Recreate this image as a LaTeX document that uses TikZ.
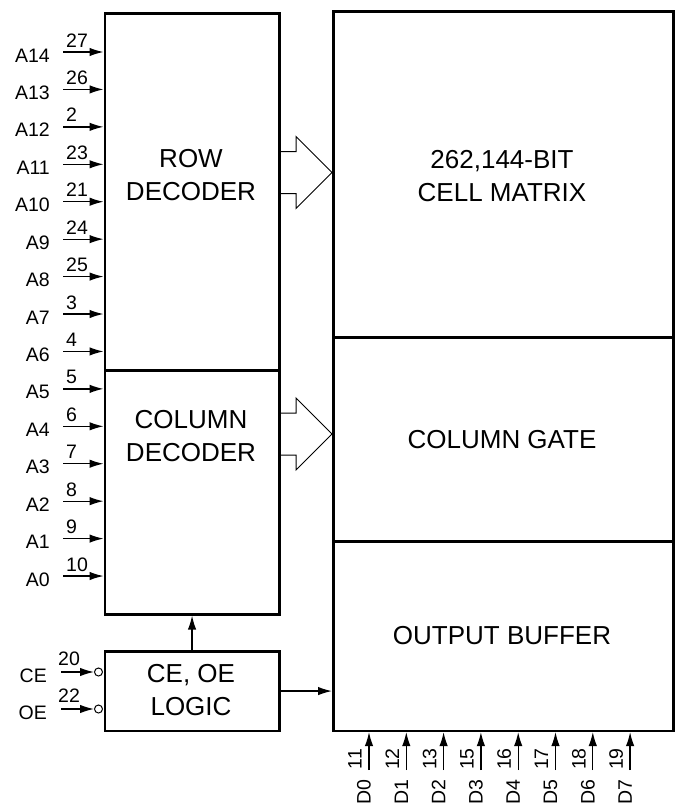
\documentclass[tikz,border=0pt]{standalone}
\usepackage{fontspec}
\setmainfont{Liberation Sans}
\usetikzlibrary{arrows.meta}

\begin{document}
\begin{tikzpicture}[x=1pt,y=-1pt,>={Latex[length=14pt,width=8.5pt]},
  blk/.style={draw,line width=2.6pt,inner sep=0pt,anchor=north west},
  big/.style={font=\fontsize{26}{33}\selectfont,align=center},
  pin/.style={font=\fontsize{19.5}{22}\selectfont,inner sep=0pt},
  wire/.style={line width=1.3pt},
  bub/.style={circle,draw,line width=1pt,minimum size=8pt,inner sep=0pt}]
\useasboundingbox (0,0) rectangle (675,806);
% left side
\node[blk,minimum width=174.5pt,minimum height=357pt] (row) at (103.5,12) {};
\node[blk,minimum width=174.5pt,minimum height=244pt] (col) at (103.5,369) {};
\node[blk,minimum width=174.5pt,minimum height=79.5pt] (logic) at (103.5,650) {};
% right side
\node[blk,minimum width=340pt,minimum height=326pt] (matrix) at (332,10) {};
\node[blk,minimum width=340pt,minimum height=204pt] (gate) at (332,336) {};
\node[blk,minimum width=340pt,minimum height=189.5pt] (buf) at (332,540) {};
\node[big] (rowtxt) at (191,175) {ROW\\DECODER};
\node[big] (coltxt) at (191,436) {COLUMN\\DECODER};
\node[big] (logtxt) at (191,690) {CE, OE\\LOGIC};
\node[big] (mattxt) at (502,176) {262,144-BIT\\CELL MATRIX};
\node[big] (gatetxt) at (502,440) {COLUMN GATE};
\node[big] (buftxt) at (502,636) {OUTPUT BUFFER};
% hollow arrows
\foreach \y in {172.5,434}
  \draw[line width=1pt] (278,\y-21) -- (296,\y-21) -- (296,\y-36) -- (332,\y)
    -- (296,\y+36) -- (296,\y+21) -- (278,\y+21);
% address pins
\foreach \nm/\num [count=\k from 0] in {A14/27,A13/26,A12/2,A11/23,A10/21,A9/24,A8/25,
    A7/3,A6/4,A5/5,A4/6,A3/7,A2/8,A1/9,A0/10} {
  \coordinate (a\k) at (63,52+37.43*\k);
  \draw[wire,->] (a\k) -- (a\k -| row.west);
  \node[pin,anchor=base east] (an\k) at (50,62+37.43*\k) {\nm};
  \node[pin,anchor=base west] (pn\k) at (66,47+37.43*\k) {\num};
}
% control pins
\node[bub] (cebub) at (98.5,672) {};
\node[bub] (oebub) at (98.5,709) {};
\coordinate (cein) at (61,672);
\coordinate (oein) at (61,709);
\draw[wire,->] (cein) -- (cebub.west);
\draw[wire,->] (oein) -- (oebub.west);
\node[pin,anchor=base east] (cetxt) at (47,682) {CE};
\node[pin,anchor=base east] (oetxt) at (47,719) {OE};
\node[pin,anchor=base west] (cenum) at (58,665) {20};
\node[pin,anchor=base west] (oenum) at (58,702) {22};
\draw[wire,->] (logic.north) -- (col.south);
\draw[wire,->] (logic.east) -- (logic.east -| buf.west);
% data pins
\foreach \nm/\num [count=\k from 0] in {D0/11,D1/12,D2/13,D3/15,D4/16,D5/17,D6/18,D7/19} {
  \coordinate (d\k) at (369+37.3*\k,770);
  \draw[wire,->] (d\k) -- (d\k |- buf.south);
  \node[pin,rotate=90] (dn\k) at (355+37.3*\k,759) {\num};
  \node[pin,rotate=90] (dl\k) at (364+37.3*\k,792) {\nm};
}
\end{tikzpicture}
\end{document}
